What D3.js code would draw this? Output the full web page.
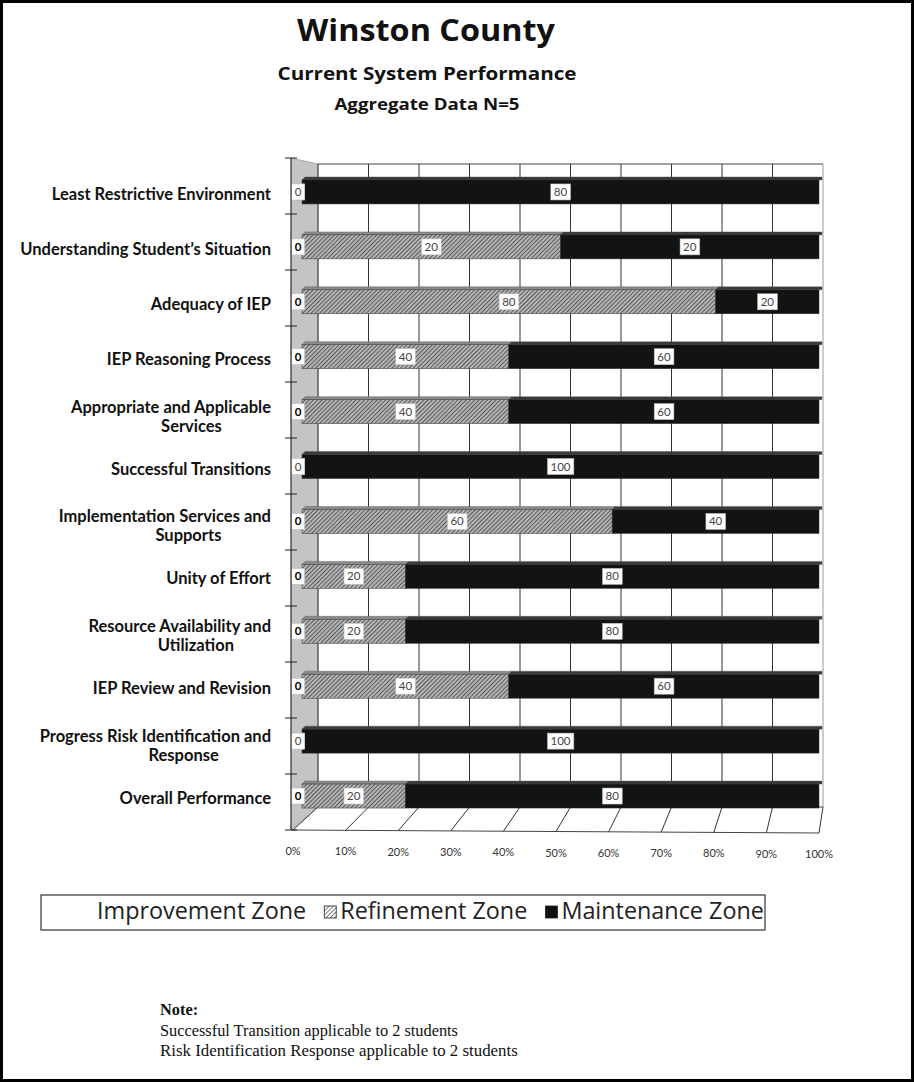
<!DOCTYPE html>
<html>
<head>
<meta charset="utf-8">
<script src="https://cdn.jsdelivr.net/npm/d3@7"></script>
<style>
  html, body { margin: 0; padding: 0; background: #fff; }
  svg { display: block; }
</style>
</head>
<body>
<svg id="chart" width="914" height="1082"></svg>
<script>
// ---------------- DATA ----------------
const categories = [
  "Least Restrictive Environment",
  "Understanding Student\u2019s Situation",
  "Adequacy of IEP",
  "IEP Reasoning Process",
  "Appropriate and Applicable|Services",
  "Successful Transitions",
  "Implementation Services and|Supports",
  "Unity of Effort",
  "Resource Availability and|Utilization",
  "IEP Review and Revision",
  "Progress Risk Identification and|Response",
  "Overall Performance"
];
const seriesNames = ["Improvement Zone", "Refinement Zone", "Maintenance Zone"];
const improvement = [0, 0, 0, 0, 0, 0, 0, 0, 0, 0, 0, 0];
const refinement  = [0, 20, 80, 40, 40, 0, 60, 20, 20, 40, 0, 20];
const maintenance = [80, 20, 20, 60, 60, 100, 40, 80, 80, 60, 100, 80];
const tickValues = [0, 0.1, 0.2, 0.3, 0.4, 0.5, 0.6, 0.7, 0.8, 0.9, 1.0];
const titleText = "Winston County";
const subtitleText = "Current System Performance";
const subtitle2Text = "Aggregate Data N=5";
const noteLines = ["Note:", "Successful Transition applicable to 2 students", "Risk Identification Response applicable to 2 students"];

// ---------------- SETUP ----------------
const svg = d3.select("#chart");
const W = 914, H = 1082;

const defs = svg.append("defs");
const hatch = defs.append("pattern")
  .attr("id", "hatch").attr("patternUnits", "userSpaceOnUse")
  .attr("width", 3).attr("height", 3)
  .attr("patternTransform", "rotate(45)");
hatch.append("rect").attr("width", 3).attr("height", 3).attr("fill", "#b4b4b4");
hatch.append("line").attr("x1", 0).attr("y1", 0).attr("x2", 0).attr("y2", 3)
  .attr("stroke", "#2a2a2a").attr("stroke-width", 1.3);

const hatchL = defs.append("pattern")
  .attr("id", "hatchL").attr("patternUnits", "userSpaceOnUse")
  .attr("width", 3).attr("height", 3)
  .attr("patternTransform", "rotate(45)");
hatchL.append("rect").attr("width", 3).attr("height", 3).attr("fill", "#fff");
hatchL.append("line").attr("x1", 0).attr("y1", 0).attr("x2", 0).attr("y2", 3)
  .attr("stroke", "#222").attr("stroke-width", 1.2);

function fitWidth(sel, target) {
  const len = sel.node().getComputedTextLength();
  const fs = parseFloat(sel.attr("font-size"));
  const nfs = fs * target / len;
  sel.attr("font-size", nfs.toFixed(2));
  return nfs;
}

// page border
svg.append("rect").attr("x", 1.5).attr("y", 1.5).attr("width", W - 3).attr("height", H - 3)
  .attr("fill", "none").attr("stroke", "#000").attr("stroke-width", 3);

// titles (bold sans, squeezed to the reference width)
const titleFont = "'Open Sans', sans-serif";
function title(text, x, y, size, width) {
  svg.append("text").attr("x", x).attr("y", y).attr("text-anchor", "middle")
    .attr("font-family", titleFont).attr("font-weight", "bold").attr("font-size", size)
    .attr("textLength", width).attr("lengthAdjust", "spacingAndGlyphs")
    .attr("fill", "#111").text(text);
}
title(titleText, 426, 41, 31, 258);
title(subtitleText, 427, 80, 18.5, 299);
title(subtitle2Text, 427, 110, 16, 185);

// ---------------- SCALES ----------------
const frontTop = 158, frontBottom = 830;
const backTop = 164, backBottom = 807;
const xFront = d3.scaleLinear().domain([0, 1]).range([293, 819]);
const xBack = d3.scaleLinear().domain([0, 1]).range([318, 823]);
const xBar = d3.scaleLinear().domain([0, 1]).range([305, 822]);
const yFront = d3.scaleBand().domain(categories).range([frontTop, frontBottom]);
const yBar = d3.scaleBand().domain(categories).range([164.5, 823.5])
  .paddingInner(0.563).paddingOuter(0.2815);
const frontSlope = 3;

// left wall (gray)
svg.append("polygon")
  .attr("points", [[xFront(0) - 2, frontTop], [xBack(0), backTop], [xBack(0), backBottom], [xFront(0) - 2, frontBottom]].join(" "))
  .attr("fill", "#c4c4c4").attr("stroke", "#888").attr("stroke-width", 0.6);

// back wall gridlines
const grid = svg.append("g");
grid.append("line").attr("x1", xBack(0)).attr("x2", xBack(1)).attr("y1", backTop).attr("y2", backTop)
  .attr("stroke", "#444").attr("stroke-width", 1);
grid.selectAll("line.v").data(tickValues).join("line").attr("class", "v")
  .attr("x1", d => xBack(d)).attr("x2", d => xBack(d))
  .attr("y1", backTop).attr("y2", backBottom)
  .attr("stroke", d => d === 1 ? "#999" : "#333").attr("stroke-width", 1);

// floor
const floor = svg.append("g");
floor.append("line").attr("x1", xBack(0)).attr("x2", xBack(1)).attr("y1", backBottom).attr("y2", backBottom)
  .attr("stroke", "#444");
floor.append("line").attr("x1", xFront(0) - 2).attr("x2", xFront(1)).attr("y1", frontBottom).attr("y2", frontBottom + frontSlope)
  .attr("stroke", "#444");
floor.selectAll("line.f").data(tickValues).join("line").attr("class", "f")
  .attr("x1", d => xFront(d)).attr("y1", d => frontBottom + frontSlope * d)
  .attr("x2", d => xBack(d)).attr("y2", backBottom)
  .attr("stroke", "#333").attr("stroke-width", 1);

// ---------------- BARS ----------------
const rows = categories.map((c, i) => ({
  category: c,
  "Improvement Zone": improvement[i],
  "Refinement Zone": refinement[i],
  "Maintenance Zone": maintenance[i]
}));
const stack = d3.stack().keys(seriesNames).offset(d3.stackOffsetExpand);
const stacked = stack(rows);
const fills = { "Improvement Zone": "#ffffff", "Refinement Zone": "url(#hatch)", "Maintenance Zone": "#131313" };
const topFills = { "Improvement Zone": "#ffffff", "Refinement Zone": "#8a8a8a", "Maintenance Zone": "#3a3a3a" };

const barsG = svg.append("g");
const bh = yBar.bandwidth();
stacked.forEach(layer => {
  const key = layer.key;
  const g = barsG.append("g");
  const segs = layer.filter(d => d[1] - d[0] > 0);
  g.selectAll("polygon").data(segs).join("polygon")
    .attr("points", d => {
      const x0 = xBar(d[0]), x1 = xBar(d[1]), y = yBar(d.data.category);
      return [[x0 - 3, y], [x0, y - 3], [x1, y - 3], [x1, y]].join(" ");
    })
    .attr("fill", topFills[key]).attr("stroke", "#555").attr("stroke-width", 0.4);
  g.selectAll("rect").data(segs).join("rect")
    .attr("x", d => xBar(d[0]) - 3)
    .attr("y", d => yBar(d.data.category))
    .attr("width", d => xBar(d[1]) - xBar(d[0]))
    .attr("height", bh)
    .attr("fill", fills[key])
    .attr("stroke", "#333").attr("stroke-width", 0.5);
});

// data labels
const labelsG = svg.append("g");
stacked.forEach((layer, si) => {
  const key = layer.key;
  const vals = [improvement, refinement, maintenance][si];
  layer.forEach((d, i) => {
    const v = vals[i];
    const w = xBar(d[1]) - xBar(d[0]);
    const cx = w > 0 ? (xBar(d[0]) + xBar(d[1])) / 2 - 3 : xBar(0) - 7;
    const cy = yBar(d.data.category) + bh / 2;
    const bold = key === "Improvement Zone";
    const g = labelsG.append("g");
    const txt = g.append("text").attr("x", cx).attr("y", cy + 4)
      .attr("text-anchor", "middle")
      .attr("font-family", "Lato, 'Open Sans', sans-serif")
      .attr("font-size", 11.5)
      .attr("font-weight", bold ? "bold" : "normal")
      .attr("fill", bold ? "#000" : "#444")
      .text(v);
    const bb = txt.node().getBBox();
    g.insert("rect", "text").attr("x", bb.x - 3).attr("y", cy - 8)
      .attr("width", bb.width + 6).attr("height", 16)
      .attr("fill", "#fff").attr("stroke", "#bbb").attr("stroke-width", 0.6);
  });
});

// left axis line and ticks
const axisG = svg.append("g");
axisG.append("line").attr("x1", xFront(0) - 2).attr("x2", xFront(0) - 2)
  .attr("y1", frontTop).attr("y2", frontBottom).attr("stroke", "#222").attr("stroke-width", 1);
const tickYs = categories.map(c => yFront(c)).concat([frontBottom]);
axisG.selectAll("line.t").data(tickYs).join("line").attr("class", "t")
  .attr("x1", xFront(0) - 8).attr("x2", xFront(0) + 4)
  .attr("y1", d => d).attr("y2", d => d)
  .attr("stroke", "#222").attr("stroke-width", 1);

// category labels
const catG = svg.append("g");
const catFont = 13.5;
const probe = catG.append("text").attr("font-family", "Lato").attr("font-weight", "bold")
  .attr("font-size", catFont).text(categories[1]);
const catLen = probe.node().getComputedTextLength();
probe.remove();
const catSize = catFont * 251 / catLen;
categories.forEach(c => {
  const parts = c.split("|");
  const cy = yBar(c) + bh / 2;
  if (parts.length === 1) {
    catG.append("text").attr("x", 271).attr("y", cy + 8)
      .attr("text-anchor", "end").attr("font-family", "Lato").attr("font-weight", "bold")
      .attr("font-size", catSize).attr("fill", "#111").text(parts[0]);
  } else {
    const t = catG.append("text").attr("x", 271).attr("y", cy + 1)
      .attr("text-anchor", "end").attr("font-family", "Lato").attr("font-weight", "bold")
      .attr("font-size", catSize).attr("fill", "#111").text(parts[0]);
    const w = t.node().getComputedTextLength();
    const c1 = 271 - w / 2;
    catG.append("text").attr("x", (c1 + 212) / 2).attr("y", cy + 20)
      .attr("text-anchor", "middle").attr("font-family", "Lato").attr("font-weight", "bold")
      .attr("font-size", catSize).attr("fill", "#111").text(parts[1]);
  }
});

// x tick labels
const fmt = d3.format(".0%");
svg.append("g").selectAll("text").data(tickValues).join("text")
  .attr("x", d => xFront(d)).attr("y", d => frontBottom + frontSlope * d + 25)
  .attr("text-anchor", "middle").attr("font-family", "Lato").attr("font-size", 11)
  .attr("fill", "#333").text(d => fmt(d));

// ---------------- LEGEND ----------------
const leg = svg.append("g");
leg.append("rect").attr("x", 41).attr("y", 895).attr("width", 724).attr("height", 35)
  .attr("fill", "#fff").attr("stroke", "#333").attr("stroke-width", 1.2);
const legFamily = "'Open Sans', sans-serif";
const legStart = 97, legEnd = 764, iconW = 12, iconGap = 4, itemGap = 18;
const baseSize = 19;
const legTexts = seriesNames.map(n => leg.append("text")
  .attr("font-family", legFamily).attr("font-size", baseSize).attr("fill", "#222").text(n));
const lens = legTexts.map(t => t.node().getComputedTextLength());
const fixedW = 2 * (iconW + iconGap + itemGap);
const k = (legEnd - legStart - fixedW) / d3.sum(lens);
const legSize = baseSize * k;
let cx = legStart;
const icons = [null, "url(#hatchL)", "#111"];
legTexts.forEach((t, i) => {
  if (i > 0) {
    cx += itemGap;
    leg.append("rect").attr("x", cx).attr("y", 906).attr("width", iconW).attr("height", iconW)
      .attr("fill", icons[i]).attr("stroke", "#222").attr("stroke-width", 0.8);
    cx += iconW + iconGap;
  }
  t.attr("x", cx).attr("y", 919).attr("font-size", legSize);
  cx += lens[i] * k;
});

// ---------------- NOTE ----------------
const noteG = svg.append("g");
const noteYs = [1015, 1036, 1056];
const noteWidths = [null, 298, 358];
const noteTexts = noteLines.map((line, i) => noteG.append("text").attr("x", 160).attr("y", noteYs[i])
  .attr("font-family", "Liberation Serif").attr("font-size", 14.5)
  .attr("font-weight", i === 0 ? "bold" : "normal").attr("fill", "#111").text(line));
const s1 = fitWidth(noteTexts[1], noteWidths[1]);
fitWidth(noteTexts[2], noteWidths[2]);
noteTexts[0].attr("font-size", s1.toFixed(2));
</script>
</body>
</html>
